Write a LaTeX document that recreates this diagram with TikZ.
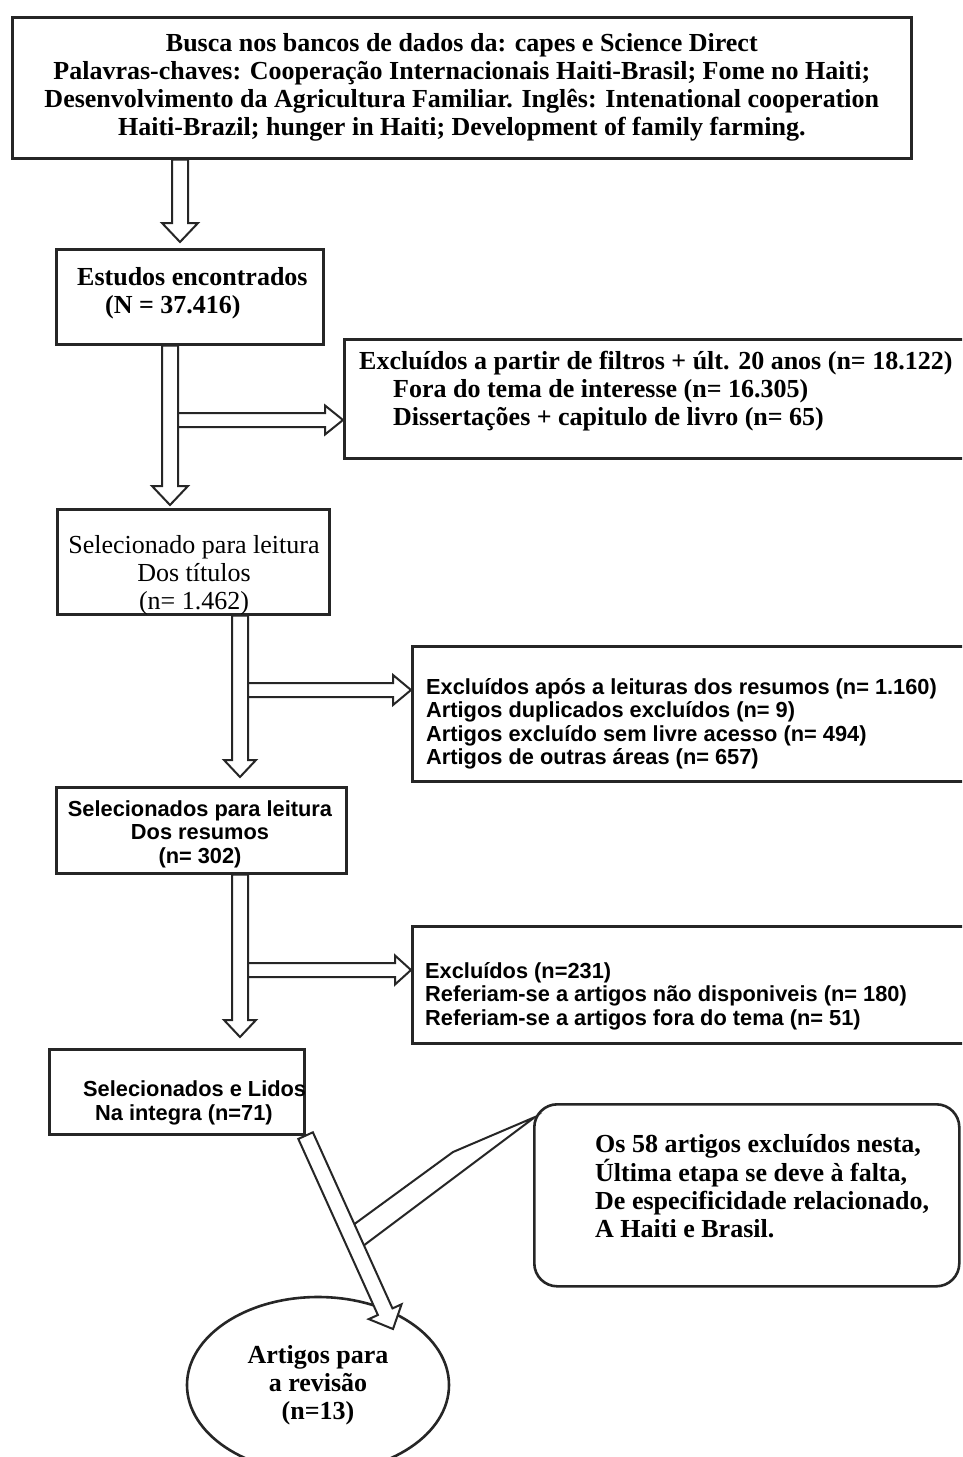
\documentclass[tikz,border=0pt]{standalone}
\usepackage{fontspec}
\setmainfont{Liberation Serif}
\newfontfamily\sansf{Liberation Sans}
\usetikzlibrary{calc,shapes.geometric}

% closed hollow arrow: #1 start, #2 tip, #3 shaft half width, #4 head half width, #5 head length, #6 style
\newcommand\hollowarrow[6]{%
  \coordinate (HAbase) at ($(#2)!#5!(#1)$);
  \draw[#6] ($(#1)!#3!90:(#2)$) -- ($(HAbase)!#3!90:(#2)$) -- ($(HAbase)!#4!90:(#2)$) -- (#2)
    -- ($(HAbase)!#4!-90:(#2)$) -- ($(HAbase)!#3!-90:(#2)$) -- ($(#1)!#3!-90:(#2)$) -- cycle;}
% hollow arrow open at its start
\newcommand\openarrow[6]{%
  \coordinate (HAbase) at ($(#2)!#5!(#1)$);
  \draw[#6] ($(#1)!#3!90:(#2)$) -- ($(HAbase)!#3!90:(#2)$) -- ($(HAbase)!#4!90:(#2)$) -- (#2)
    -- ($(HAbase)!#4!-90:(#2)$) -- ($(HAbase)!#3!-90:(#2)$) -- ($(#1)!#3!-90:(#2)$);}

\begin{document}
\begin{tikzpicture}[x=1pt,y=-1pt,
  box/.style={draw=black!85, line width=2.6pt, inner sep=0pt, anchor=north west},
  serifb/.style={font=\fontsize{26}{28}\selectfont\bfseries},
  serifr/.style={font=\fontsize{26}{28}\selectfont},
  sansb/.style={font=\sansf\fontsize{21.8}{23.5}\selectfont\bfseries},
  txt/.style={inner sep=0pt, align=left},
  arr/.style={draw=black!85, line width=2pt, fill=white, line join=miter},
  arropen/.style={draw=black!85, line width=2pt, line join=miter},
]
\useasboundingbox (0,0) rectangle (962,1457);
\clip (0,0) rectangle (962,1457);
\fill[white] (0,0) rectangle (962,1457);

% boxes
\node[box, serifb, minimum width=899, minimum height=141, align=center] (b1) at (11,16)
  {Busca nos bancos de dados da: capes e Science Direct\\
   Palavras-chaves: Cooperação Internacionais Haiti-Brasil; Fome no Haiti;\\
   Desenvolvimento da Agricultura Familiar. Inglês: Intenational cooperation\\
   Haiti-Brazil; hunger in Haiti; Development of family farming.};

\node[box, minimum width=267, minimum height=95] (b2) at (55,248) {};
\node[txt, serifb, anchor=west] (t2) at (77,293) {Estudos encontrados\\\hspace*{28pt}(N = 37.416)};

\node[box, minimum width=632, minimum height=119] (b5) at (343,338) {};
\node[txt, serifb, anchor=west] (t5) at (359,391)
  {Excluídos a partir de filtros + últ. 20 anos (n= 18.122)\\
   \hspace*{34pt}Fora do tema de interesse (n= 16.305)\\
   \hspace*{34pt}Dissertações + capitulo de livro (n= 65)};

\node[box, minimum width=272, minimum height=105] (b6) at (56,508) {};
\node[txt, serifr, align=center] (t6) at (194,575) {Selecionado para leitura\\Dos títulos\\(n= 1.462)};

\node[box, minimum width=564, minimum height=135] (b8) at (411,645) {};
\node[txt, sansb, anchor=west] (t8) at (426,724)
  {Excluídos após a leituras dos resumos (n= 1.160)\\
   Artigos duplicados excluídos (n= 9)\\
   Artigos excluído sem livre acesso (n= 494)\\
   Artigos de outras áreas (n= 657)};

\node[box, minimum width=290, minimum height=86] (b9) at (55,786) {};
\node[txt, sansb, align=center] (t9) at (200,834) {Selecionados para leitura\\Dos resumos\\(n= 302)};

\node[box, minimum width=564, minimum height=117] (b11) at (411,925) {};
\node[txt, sansb, anchor=west] (t11) at (425,996)
  {Excluídos (n=231)\\
   Referiam-se a artigos não disponiveis (n= 180)\\
   Referiam-se a artigos fora do tema (n= 51)};

\node[box, minimum width=255, minimum height=85] (b12) at (48,1048) {};
\node[txt, sansb, anchor=west] (t12) at (83,1103) {Selecionados e Lidos\\\hspace*{12pt}Na integra (n=71)};

\node[box, rounded corners=23pt, minimum width=425, minimum height=182] (b13) at (533,1103) {};
\node[txt, serifb, anchor=west] (t13) at (595,1186)
  {Os 58 artigos excluídos nesta,\\
   Última etapa se deve à falta,\\
   De especificidade relacionado,\\
   A Haiti e Brasil.};

\node[draw=black!85, ellipse, line width=2.6pt, minimum width=262, minimum height=176, inner sep=0pt,
      serifb, align=center] (ell) at (318,1385) {Artigos para\\a revisão\\(n=13)};

% arrow anchor coordinates
\coordinate (xa) at (180,0);
\coordinate (xb) at (170,0);
\coordinate (xc) at (240,0);
\coordinate (ya) at (0,420);
\coordinate (yb) at (0,690);
\coordinate (yc) at (0,970);

\coordinate (a1s) at (xa |- b1.south);
\coordinate (a1e) at ($(xa |- b2.north)+(0,-6)$);
\coordinate (a2s) at (xb |- b2.south);
\coordinate (a2e) at ($(xb |- b6.north)+(0,-3)$);
\coordinate (a3s) at (xc |- b6.south);
\coordinate (a3e) at ($(xc |- b9.north)+(0,-9)$);
\coordinate (a4s) at (xc |- b9.south);
\coordinate (a4e) at ($(xc |- b12.north)+(0,-11)$);

\coordinate (r1s) at ($(xb |- ya)+(8,0)$);
\coordinate (r1e) at (b5.north west |- ya);
\coordinate (r2s) at ($(xc |- yb)+(8,0)$);
\coordinate (r2e) at (b8.north west |- yb);
\coordinate (r3s) at ($(xc |- yc)+(8,0)$);
\coordinate (r3e) at (b11.north west |- yc);

\hollowarrow{a1s}{a1e}{8pt}{18pt}{19pt}{arr}
\hollowarrow{a2s}{a2e}{8pt}{18pt}{19pt}{arr}
\hollowarrow{a3s}{a3e}{8pt}{16pt}{17pt}{arr}
\hollowarrow{a4s}{a4e}{8pt}{16pt}{17pt}{arr}

\openarrow{r1s}{r1e}{7pt}{14.5pt}{18pt}{arropen}
\openarrow{r2s}{r2e}{7pt}{15pt}{18pt}{arropen}
\openarrow{r3s}{r3e}{7pt}{14.5pt}{16pt}{arropen}

% callout pointer
\coordinate (ptip) at ($(b13.north west)+(2,14)$);
\coordinate (pk) at (453,1152);
\coordinate (pu) at (349,1228);
\coordinate (pl) at (359,1249);
\draw[arropen] (pu) -- (pk) -- (ptip) -- (pl);

% diagonal arrow
\coordinate (dtip) at (393,1329);
\hollowarrow{b12.south east}{dtip}{8pt}{18pt}{19pt}{arr}
\end{tikzpicture}
\end{document}
